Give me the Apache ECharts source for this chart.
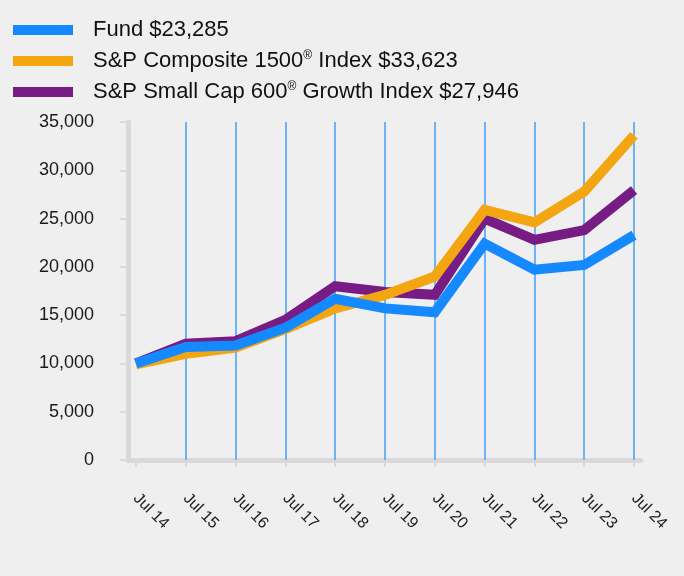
<!DOCTYPE html>
<html>
<head>
<meta charset="utf-8">
<script src="https://cdn.jsdelivr.net/npm/echarts@6/dist/echarts.min.js"></script>
<style>
html,body{margin:0;padding:0;background:#efefef;}
#c{width:684px;height:576px;}
</style>
</head>
<body>
<div id="c"></div>
<script>
var years = ['Jul 14','Jul 15','Jul 16','Jul 17','Jul 18','Jul 19','Jul 20','Jul 21','Jul 22','Jul 23','Jul 24'];
var fund = [10000, 11700, 11850, 13700, 16700, 15700, 15300, 22400, 19700, 20200, 23285];
var sp1500 = [9900, 11000, 11650, 13550, 15700, 17100, 19000, 25900, 24600, 27800, 33623];
var sp600g = [10000, 12050, 12300, 14500, 18000, 17400, 17100, 25000, 22800, 23800, 27946];
var yTicks = [0, 5000, 10000, 15000, 20000, 25000, 30000, 35000];

var names = ['Fund $23,285', 'S&P Composite 1500® Index $33,623', 'S&P Small Cap 600® Growth Index $27,946'];
var richNames = {};
richNames[names[0]] = '{t|Fund $23,285}';
richNames[names[1]] = '{t|S&P Composite 1500}{s|®}{t| Index $33,623}';
richNames[names[2]] = '{t|S&P Small Cap 600}{s|®}{t| Growth Index $27,946}';

function pairs(arr){ return arr.map(function(v,i){ return [i, v]; }); }
var idx = years.map(function(_, i){ return i; });
var gridLines = idx.slice(1).map(function(i){ return {xAxis: i}; });

var font = 'Liberation Sans, Arial, sans-serif';
var chart = echarts.init(document.getElementById('c'));
chart.setOption({
  backgroundColor: '#efefef',
  animation: false,
  textStyle: {fontFamily: font},
  legend: {
    orient: 'vertical',
    left: 13,
    top: 19,
    padding: 0,
    itemWidth: 60,
    itemHeight: 10,
    itemGap: 9,
    icon: 'rect',
    data: names,
    formatter: function(n){ return richNames[n]; },
    textStyle: {
      fontFamily: font,
      padding: [0, 0, 0, 15],
      rich: {
        t: {fontSize: 22, color: '#111', fontFamily: font},
        s: {fontSize: 12, color: '#111', fontFamily: font, verticalAlign: 'top'}
      }
    }
  },
  grid: {left: 128, right: 43, top: 122, bottom: 116},
  xAxis: {
    type: 'value',
    min: -0.16,
    max: 10.14,
    axisLine: {show: true, lineStyle: {color: '#d9d9d9', width: 5}},
    axisTick: {show: true, customValues: idx, length: 7, lineStyle: {color: '#d9d9d9', width: 2}},
    axisLabel: {
      customValues: idx,
      rotate: -45,
      margin: 36,
      fontSize: 16,
      color: '#1a1a1a',
      fontFamily: font,
      formatter: function(v){ return years[Math.round(v)]; }
    },
    splitLine: {show: false}
  },
  yAxis: {
    type: 'value',
    min: 0,
    max: 35000,
    interval: 5000,
    axisLine: {show: true, onZero: false, lineStyle: {color: '#d9d9d9', width: 5}},
    axisTick: {show: true, length: 8, lineStyle: {color: '#d9d9d9', width: 2}},
    axisLabel: {
      margin: 34,
      fontSize: 18,
      color: '#1a1a1a',
      fontFamily: font,
      formatter: function(v){ return v.toLocaleString('en-US'); }
    },
    splitLine: {show: false}
  },
  series: [
    {
      name: names[2], type: 'line', data: pairs(sp600g), symbol: 'none',
      lineStyle: {width: 10, color: '#761c84', join: 'miter'}, itemStyle: {color: '#761c84'},
      z: 3,
      markLine: {
        silent: true, symbol: 'none', z: 1, label: {show: false},
        lineStyle: {color: '#6cb4f7', width: 2, type: 'solid'},
        data: gridLines
      }
    },
    {
      name: names[1], type: 'line', data: pairs(sp1500), symbol: 'none',
      lineStyle: {width: 10, color: '#f4a512', join: 'miter'}, itemStyle: {color: '#f4a512'}, z: 4
    },
    {
      name: names[0], type: 'line', data: pairs(fund), symbol: 'none',
      lineStyle: {width: 10, color: '#1589ff', join: 'miter'}, itemStyle: {color: '#1589ff'}, z: 5
    }
  ]
});
</script>
</body>
</html>
